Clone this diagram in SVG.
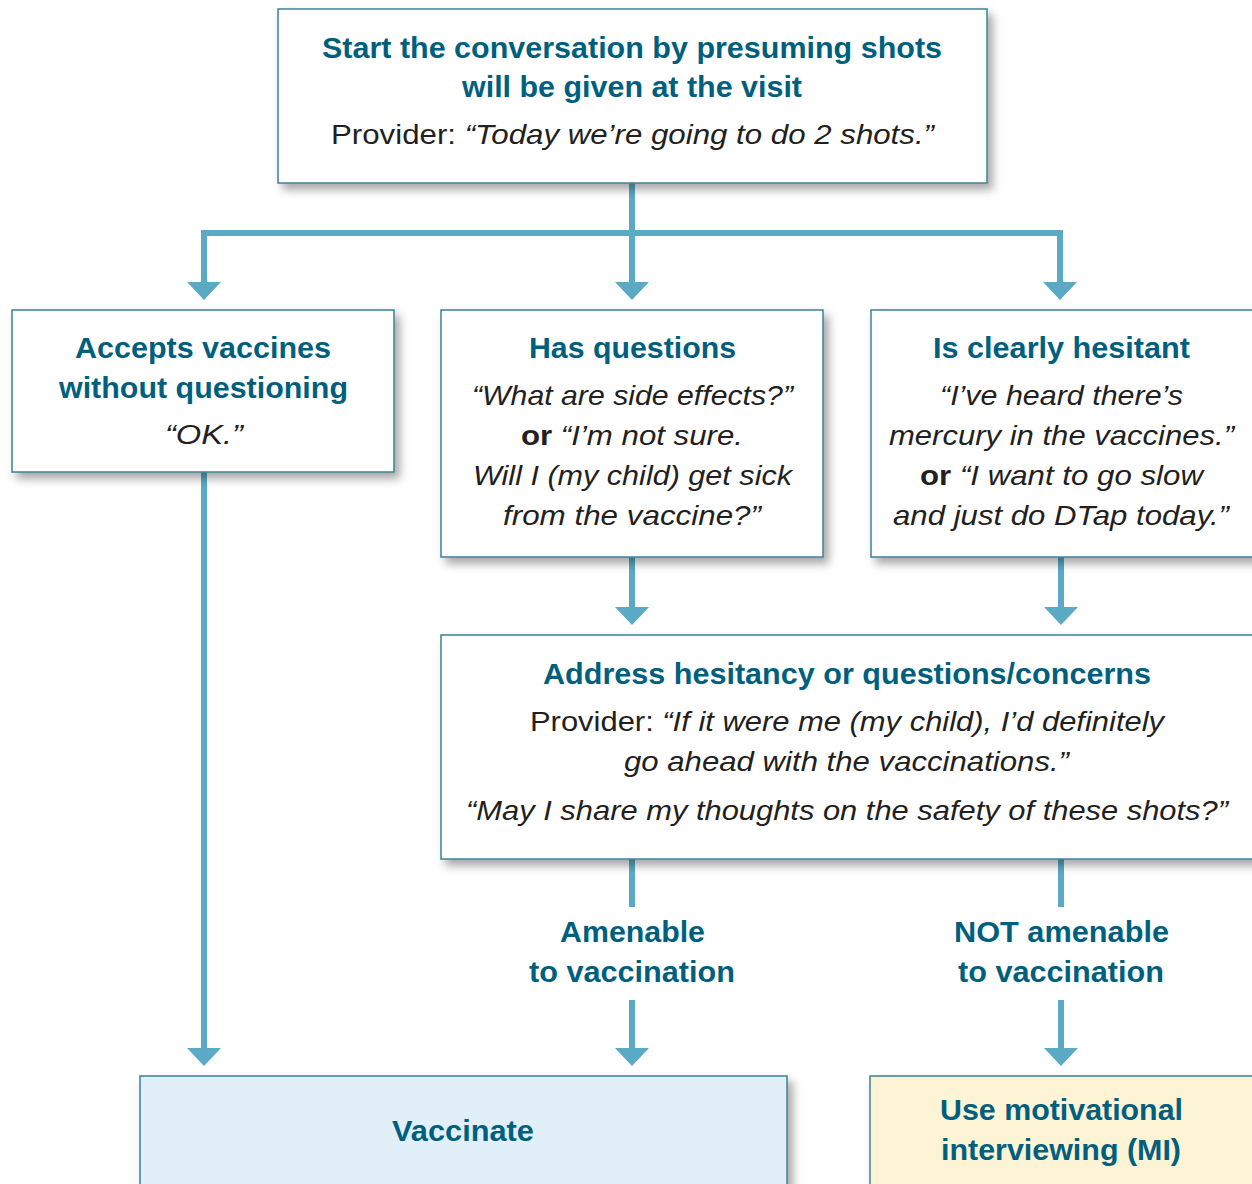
<svg xmlns="http://www.w3.org/2000/svg" width="1252" height="1184" viewBox="0 0 1252 1184">
<defs>
<filter id="sh" x="-10%" y="-10%" width="130%" height="140%">
<feDropShadow dx="5" dy="6" stdDeviation="5" flood-color="#000" flood-opacity="0.35"/>
</filter>
</defs>
<style>
.box{fill:#fff;stroke:#3d8096;stroke-width:1.5;filter:url(#sh)}
.h{font-family:"Liberation Sans",Arial,sans-serif;font-weight:bold;font-size:29px;fill:#005f7e;text-anchor:middle}
.t{font-family:"Liberation Sans",Arial,sans-serif;font-size:28px;fill:#231f20;text-anchor:middle}
.i{font-style:italic}
.b{font-weight:bold}
.ln{stroke:#5aaac6;stroke-width:6;fill:none}
</style>
<rect width="1252" height="1184" fill="#fff"/>
<g id="connectors">
<path class="ln" d="M632,183 V233"/>
<path class="ln" d="M204,282 V233 H1060 V282"/>
<path class="ln" d="M632,233 V282"/>
<path class="ln" d="M632,557 V607"/>
<path class="ln" d="M1061,557 V607"/>
<path class="ln" d="M204,472 V1048"/>
<path class="ln" d="M632,859 V907"/>
<path class="ln" d="M632,1000 V1048"/>
<path class="ln" d="M1061,859 V907"/>
<path class="ln" d="M1061,1000 V1048"/>
<path d="M187,282 H221 L204,300 Z M615,282 H649 L632,300 Z M1043,282 H1077 L1060,300 Z M615,607 H649 L632,625 Z M1044,607 H1078 L1061,625 Z M187,1048 H221 L204,1066 Z M615,1048 H649 L632,1066 Z M1044,1048 H1078 L1061,1066 Z" fill="#5aaac6"/>
</g>
<g id="start">
<rect class="box" x="278" y="9" width="709" height="174"/>
<text class="h" x="632" y="58" textLength="620" lengthAdjust="spacingAndGlyphs">Start the conversation by presuming shots</text>
<text class="h" x="632" y="97" textLength="340" lengthAdjust="spacingAndGlyphs">will be given at the visit</text>
<text class="t" x="632.5" y="144" textLength="603" lengthAdjust="spacingAndGlyphs">Provider: <tspan class="i">“Today we’re going to do 2 shots.”</tspan></text>
</g>
<g id="accepts">
<rect class="box" x="12" y="310" width="382" height="162"/>
<text class="h" x="203" y="358" textLength="256" lengthAdjust="spacingAndGlyphs">Accepts vaccines</text>
<text class="h" x="203.5" y="398" textLength="289" lengthAdjust="spacingAndGlyphs">without questioning</text>
<text class="t i" x="204" y="444" textLength="78" lengthAdjust="spacingAndGlyphs">“OK.”</text>
</g>
<g id="questions">
<rect class="box" x="441" y="310" width="382" height="247"/>
<text class="h" x="632.5" y="358" textLength="207" lengthAdjust="spacingAndGlyphs">Has questions</text>
<text class="t i" x="632.5" y="405" textLength="321" lengthAdjust="spacingAndGlyphs">“What are side effects?”</text>
<text class="t" x="632" y="445" textLength="222" lengthAdjust="spacingAndGlyphs"><tspan class="b">or</tspan> <tspan class="i">“I’m not sure.</tspan></text>
<text class="t i" x="632.5" y="485" textLength="319" lengthAdjust="spacingAndGlyphs">Will I (my child) get sick</text>
<text class="t i" x="632" y="525" textLength="258" lengthAdjust="spacingAndGlyphs">from the vaccine?”</text>
</g>
<g id="hesitant">
<rect class="box" x="871" y="310" width="400" height="247"/>
<text class="h" x="1061.5" y="358" textLength="257" lengthAdjust="spacingAndGlyphs">Is clearly hesitant</text>
<text class="t i" x="1061.5" y="405" textLength="243" lengthAdjust="spacingAndGlyphs">“I’ve heard there’s</text>
<text class="t i" x="1061.5" y="445" textLength="345" lengthAdjust="spacingAndGlyphs">mercury in the vaccines.”</text>
<text class="t" x="1061.5" y="485" textLength="283" lengthAdjust="spacingAndGlyphs"><tspan class="b">or</tspan> <tspan class="i">“I want to go slow</tspan></text>
<text class="t i" x="1061" y="525" textLength="336" lengthAdjust="spacingAndGlyphs">and just do DTap today.”</text>
</g>
<g id="address">
<rect class="box" x="441" y="635" width="830" height="224"/>
<text class="h" x="847" y="684" textLength="608" lengthAdjust="spacingAndGlyphs">Address hesitancy or questions/concerns</text>
<text class="t" x="847" y="731" textLength="634" lengthAdjust="spacingAndGlyphs">Provider: <tspan class="i">“If it were me (my child), I’d definitely</tspan></text>
<text class="t i" x="846.5" y="771" textLength="445" lengthAdjust="spacingAndGlyphs">go ahead with the vaccinations.”</text>
<text class="t i" x="847" y="820" textLength="762" lengthAdjust="spacingAndGlyphs">“May I share my thoughts on the safety of these shots?”</text>
</g>
<g id="amenable">
<text class="h" x="632.5" y="942" textLength="145" lengthAdjust="spacingAndGlyphs">Amenable</text>
<text class="h" x="632" y="982" textLength="206" lengthAdjust="spacingAndGlyphs">to vaccination</text>
</g>
<g id="not-amenable">
<text class="h" x="1061.5" y="942" textLength="215" lengthAdjust="spacingAndGlyphs">NOT amenable</text>
<text class="h" x="1061" y="982" textLength="206" lengthAdjust="spacingAndGlyphs">to vaccination</text>
</g>
<g id="vaccinate">
<rect class="box" x="140" y="1076" width="647" height="130" style="fill:#e1f0f8"/>
<text class="h" x="463" y="1141" textLength="142" lengthAdjust="spacingAndGlyphs">Vaccinate</text>
</g>
<g id="mi">
<rect class="box" x="870" y="1076" width="400" height="130" style="fill:#fdf3d5"/>
<text class="h" x="1061.5" y="1120" textLength="243" lengthAdjust="spacingAndGlyphs">Use motivational</text>
<text class="h" x="1061" y="1160" textLength="240" lengthAdjust="spacingAndGlyphs">interviewing (MI)</text>
</g>
</svg>
